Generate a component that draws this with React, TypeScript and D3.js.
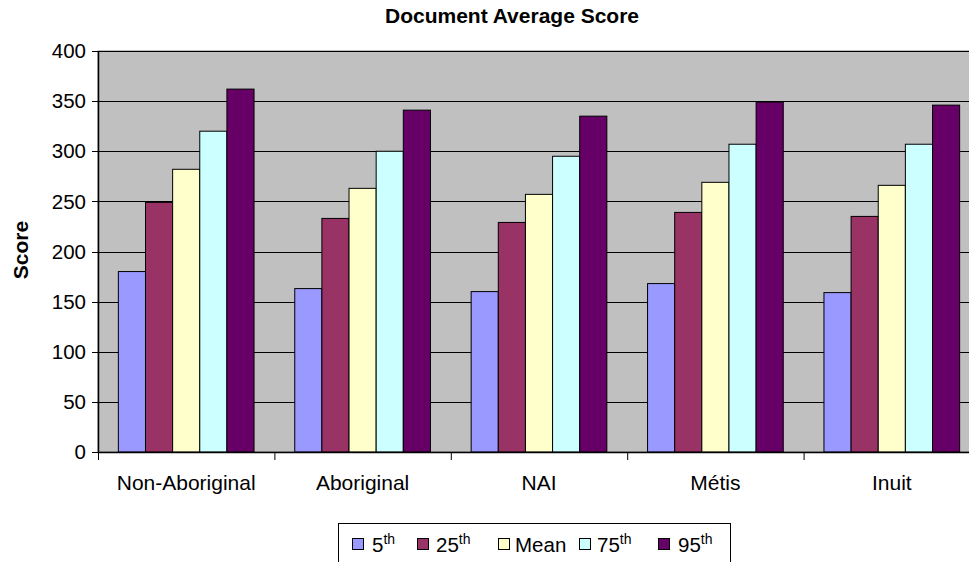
import React from "react";
import * as d3 from "d3";

const categories = ["Non-Aboriginal", "Aboriginal", "NAI", "Métis", "Inuit"];
const seriesNames = ["5th", "25th", "Mean", "75th", "95th"];
const p5 = [180, 163, 160, 168, 159];
const p25 = [249, 233, 229, 239, 235];
const meanVals = [282, 263, 257, 269, 266];
const p75 = [320, 300, 295, 307, 307];
const p95 = [362, 341, 335, 349, 346];
const seriesValues = [p5, p25, meanVals, p75, p95];
const seriesColors = ["#9999FF", "#993366", "#FFFFCC", "#CCFFFF", "#660066"];
const yTicks = [0, 50, 100, 150, 200, 250, 300, 350, 400];

const W = 969;
const H = 562;
const left = 98;
const right = 980;
const top = 51;
const bottom = 452;
const font = "'Liberation Sans', Arial, sans-serif";

export default function App() {
  const y = d3.scaleLinear().domain([0, 400]).range([bottom, top]);
  const x = d3.scaleBand<string>().domain(categories).range([left, right]).paddingInner(0).paddingOuter(0);
  const bw = x.bandwidth();
  const gap = (bw / 6.5) * 0.75;
  const inner = d3.scaleBand<string>().domain(seriesNames).range([gap, bw - gap]).padding(0);

  const legendSq = [352, 417, 498, 579, 658];
  const legendTx = [372, 436, 515, 597, 678];
  const legendLabels = [
    { main: "5", sup: "th" },
    { main: "25", sup: "th" },
    { main: "Mean", sup: "" },
    { main: "75", sup: "th" },
    { main: "95", sup: "th" },
  ];

  return (
    <svg width={W} height={H} style={{ position: "absolute", left: 0, top: 0, background: "#fff" }} fontFamily={font}>
      <rect x={left} y={top} width={right - left} height={bottom - top} fill="#C0C0C0" stroke="#808080" strokeWidth={1} />
      {yTicks.filter((t) => t > 0).map((t) => (
        <line key={t} x1={left} x2={right} y1={Math.round(y(t)) + 0.5} y2={Math.round(y(t)) + 0.5} stroke="#000" strokeWidth={1} />
      ))}
      {categories.map((c, ci) => (
        <g key={c}>
          {seriesNames.map((s, si) => {
            const v = seriesValues[si][ci];
            const bx = (x(c) as number) + (inner(s) as number);
            return (
              <rect key={s} x={bx} y={y(v)} width={inner.bandwidth()} height={bottom - y(v)} fill={seriesColors[si]} stroke="#000" strokeWidth={1} />
            );
          })}
        </g>
      ))}
      <line x1={left + 0.5} x2={left + 0.5} y1={top} y2={bottom} stroke="#000" strokeWidth={1.5} />
      <line x1={left} x2={right} y1={bottom + 0.5} y2={bottom + 0.5} stroke="#000" strokeWidth={1.5} />
      {yTicks.map((t) => (
        <g key={t}>
          <line x1={left - 6} x2={left} y1={Math.round(y(t)) + 0.5} y2={Math.round(y(t)) + 0.5} stroke="#000" strokeWidth={1} />
          <text x={86} y={y(t)} dy="0.35em" textAnchor="end" fontSize={20.5} fill="#000">{t}</text>
        </g>
      ))}
      {categories.map((c) => (
        <g key={c}>
          <line x1={(x(c) as number) + 0.5} x2={(x(c) as number) + 0.5} y1={bottom} y2={bottom + 8} stroke="#000" strokeWidth={1} />
          <text x={(x(c) as number) + bw / 2} y={490} textAnchor="middle" fontSize={21} fill="#000">{c}</text>
        </g>
      ))}
      <text x={512} y={23} textAnchor="middle" fontSize={21} fontWeight="bold" fill="#000">Document Average Score</text>
      <text transform="translate(28,250) rotate(-90)" textAnchor="middle" fontSize={21} fontWeight="bold" fill="#000">Score</text>
      <rect x={338.5} y={523.5} width={392} height={60} fill="#fff" stroke="#000" strokeWidth={1} />
      {legendLabels.map((l, i) => (
        <g key={i}>
          <rect x={legendSq[i] + 0.5} y={538.5} width={11} height={11} fill={seriesColors[i]} stroke="#000" strokeWidth={1} />
          <text x={legendTx[i]} y={552} fontSize={20.5} fill="#000">
            {l.main}
            {l.sup && <tspan fontSize={14} dy={-8}>{l.sup}</tspan>}
          </text>
        </g>
      ))}
    </svg>
  );
}
